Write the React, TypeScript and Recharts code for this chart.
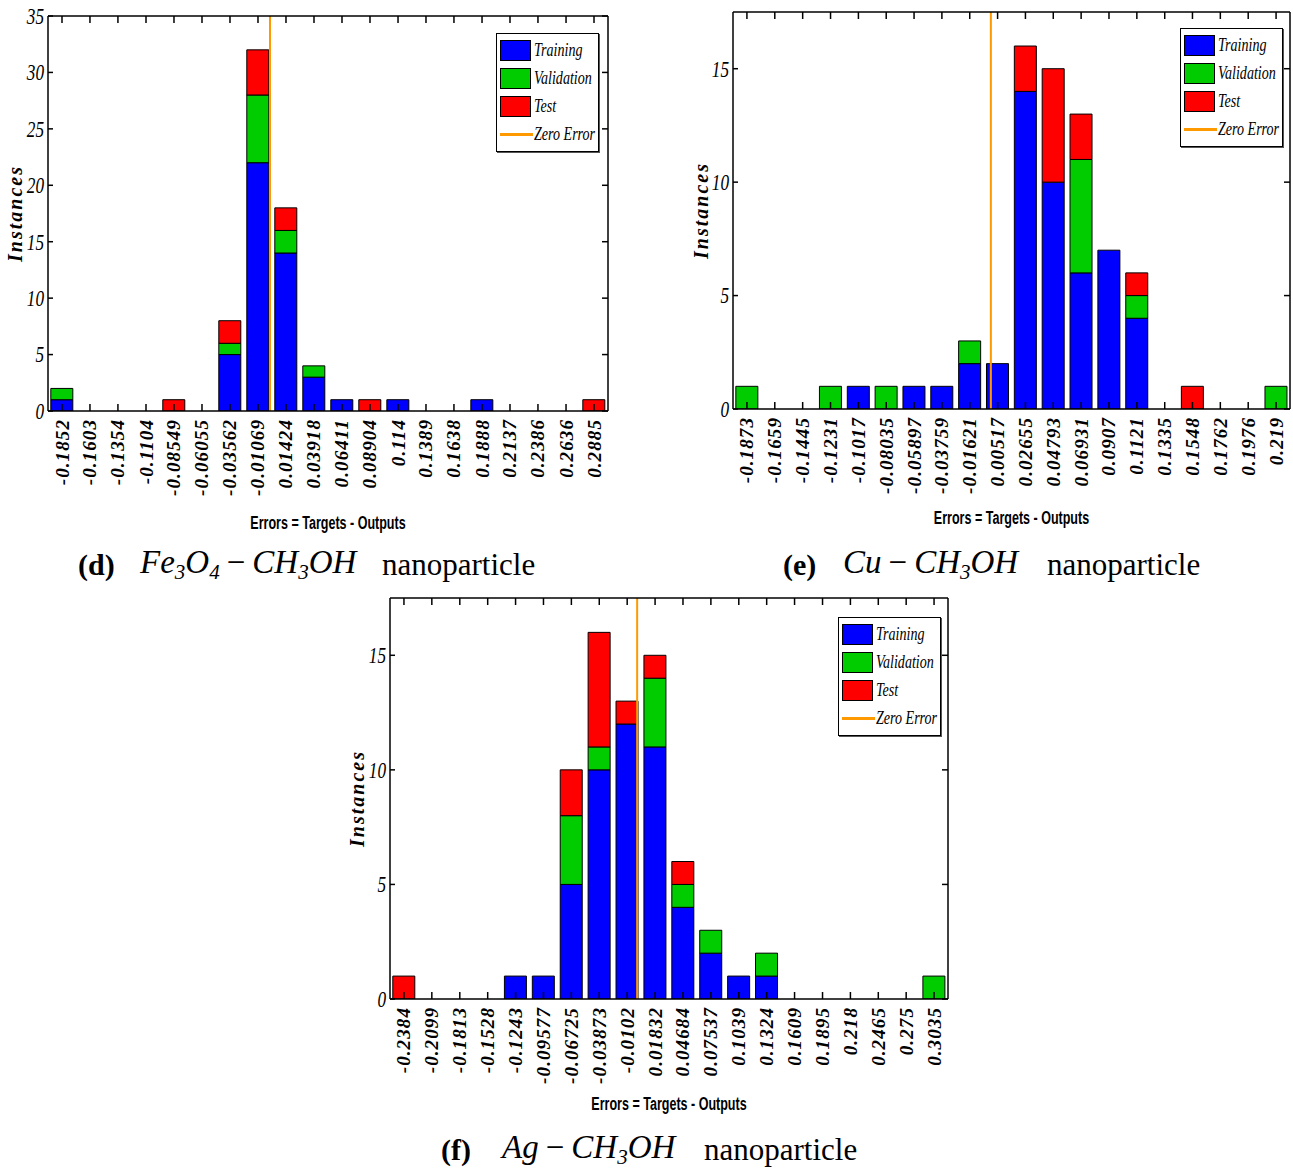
import { BarChart, Bar, XAxis, YAxis, ReferenceLine, Legend } from 'recharts'

// (d) Fe3O4 - CH3OH
const feBins = ['-0.1852', '-0.1603', '-0.1354', '-0.1104', '-0.08549', '-0.06055', '-0.03562', '-0.01069', '0.01424', '0.03918', '0.06411', '0.08904', '0.114', '0.1389', '0.1638', '0.1888', '0.2137', '0.2386', '0.2636', '0.2885']
const feTraining = [1, 0, 0, 0, 0, 0, 5, 22, 14, 3, 1, 0, 1, 0, 0, 1, 0, 0, 0, 0]
const feValidation = [1, 0, 0, 0, 0, 0, 1, 6, 2, 1, 0, 0, 0, 0, 0, 0, 0, 0, 0, 0]
const feTest = [0, 0, 0, 0, 1, 0, 2, 4, 2, 0, 0, 1, 0, 0, 0, 0, 0, 0, 0, 1]

// (e) Cu - CH3OH
const cuBins = ['-0.1873', '-0.1659', '-0.1445', '-0.1231', '-0.1017', '-0.08035', '-0.05897', '-0.03759', '-0.01621', '0.00517', '0.02655', '0.04793', '0.06931', '0.0907', '0.1121', '0.1335', '0.1548', '0.1762', '0.1976', '0.219']
const cuTraining = [0, 0, 0, 0, 1, 0, 1, 1, 2, 2, 14, 10, 6, 7, 4, 0, 0, 0, 0, 0]
const cuValidation = [1, 0, 0, 1, 0, 1, 0, 0, 1, 0, 0, 0, 5, 0, 1, 0, 0, 0, 0, 1]
const cuTest = [0, 0, 0, 0, 0, 0, 0, 0, 0, 0, 2, 5, 2, 0, 1, 0, 1, 0, 0, 0]

// (f) Ag - CH3OH
const agBins = ['-0.2384', '-0.2099', '-0.1813', '-0.1528', '-0.1243', '-0.09577', '-0.06725', '-0.03873', '-0.0102', '0.01832', '0.04684', '0.07537', '0.1039', '0.1324', '0.1609', '0.1895', '0.218', '0.2465', '0.275', '0.3035']
const agTraining = [0, 0, 0, 0, 1, 1, 5, 10, 12, 11, 4, 2, 1, 1, 0, 0, 0, 0, 0, 0]
const agValidation = [0, 0, 0, 0, 0, 0, 3, 1, 0, 3, 1, 1, 0, 1, 0, 0, 0, 0, 0, 1]
const agTest = [1, 0, 0, 0, 0, 0, 2, 5, 1, 1, 1, 0, 0, 0, 0, 0, 0, 0, 0, 0]

const feYTicks = [0, 5, 10, 15, 20, 25, 30, 35]
const smallYTicks = [0, 5, 10, 15]

const BLUE = '#0000ff'
const GREEN = '#00cc00'
const RED = '#ff0000'
const ORANGE = '#ff9900'
const SERIF = '"Liberation Serif", "Times New Roman", serif'
const SANS = '"Liberation Sans", Arial, sans-serif'

const legendItems = [
  { name: 'Training', color: BLUE },
  { name: 'Validation', color: GREEN },
  { name: 'Test', color: RED },
]

function buildRows(bins: string[], tr: number[], va: number[], te: number[]) {
  return bins.map((b, i) => ({ center: parseFloat(b), training: tr[i], validation: va[i], test: te[i] }))
}

// edges of the histogram range (half a bin beyond the outer centres)
function binRange(bins: string[]) {
  const first = parseFloat(bins[0])
  const last = parseFloat(bins[bins.length - 1])
  const w = (last - first) / (bins.length - 1)
  return [first - w / 2, last + w / 2]
}

const NoTick = () => <g />

function makeXTick(bins: string[]) {
  return ({ x, y, index }: any) => (
    <text x={x} y={y} transform={`rotate(-90 ${x} ${y})`} textAnchor="end" dominantBaseline="central"
      fontFamily={SERIF} fontWeight="bold" fontStyle="italic" fontSize={19} letterSpacing={1.1} fill="#000">
      {bins[index]}
    </text>
  )
}

function YTick({ x, y, payload }: any) {
  return (
    <text transform={`translate(${x} ${y}) scale(0.75 1)`} textAnchor="end" dominantBaseline="central"
      fontFamily={SERIF} fontStyle="italic" fontSize={23} fill="#000">
      {payload.value}
    </text>
  )
}

function XLabel({ viewBox }: any) {
  const cx = viewBox.x + viewBox.width / 2
  const cy = viewBox.y + viewBox.height - 13
  return (
    <text transform={`translate(${cx} ${cy}) scale(0.66 1)`} textAnchor="middle" dominantBaseline="central"
      fontFamily={SANS} fontWeight="bold" fontSize={19} fill="#000">
      Errors = Targets - Outputs
    </text>
  )
}

const legendText = { fontFamily: SERIF, fontStyle: 'italic', fontSize: 19, transform: 'scaleX(0.74)', transformOrigin: 'left', whiteSpace: 'nowrap' } as const

function LegendBox() {
  return (
    <div style={{ border: '1.5px solid #000', background: '#fff', padding: '2px 4px 3px 3px', boxShadow: '1px 1px 0 #555' }}>
      {legendItems.map((it) => (
        <div key={it.name} style={{ display: 'flex', alignItems: 'center', height: 28 }}>
          <span style={{ flexShrink: 0, width: 31, height: 21, background: it.color, border: '1px solid #000', boxSizing: 'border-box', marginRight: 3 }} />
          <span style={legendText}>{it.name}</span>
        </div>
      ))}
      <div style={{ display: 'flex', alignItems: 'center', height: 28 }}>
        <span style={{ flexShrink: 0, width: 33, height: 3, background: ORANGE, marginRight: 1 }} />
        <span style={legendText}>Zero Error</span>
      </div>
    </div>
  )
}

function ErrorHistogram({ bins, tr, va, te, yMax, yTicks, width, height, margin, yWidth, xHeight, labelX, legendPos }: any) {
  const rows = buildRows(bins, tr, va, te)
  const centers = rows.map((r) => r.center)
  const range = binRange(bins)
  return (
    <BarChart width={width} height={height} data={rows} margin={margin} barCategoryGap="10%">
      <XAxis xAxisId="top" dataKey="center" type="number" domain={range} ticks={centers} allowDataOverflow
        orientation="top" height={1} tick={NoTick} tickSize={-7} stroke="#000" strokeWidth={1.5} interval={0} />
      <XAxis xAxisId="bottom" dataKey="center" type="number" domain={range} ticks={centers} allowDataOverflow
        height={xHeight} interval={0} tickSize={-7} tickMargin={15}
        stroke="#000" strokeWidth={1.5} tick={makeXTick(bins)} label={<XLabel />} />
      <YAxis yAxisId="left" domain={[0, yMax]} ticks={yTicks} width={yWidth} tickSize={-5} tickMargin={9}
        stroke="#000" strokeWidth={1.5} tick={<YTick />} allowDataOverflow
        label={{ value: 'Instances', angle: -90, position: 'insideLeft', offset: labelX, style: { textAnchor: 'middle' }, fill: '#000', fontSize: 20, letterSpacing: 2, fontWeight: 'bold', fontStyle: 'italic', fontFamily: SERIF }} />
      <YAxis yAxisId="right" orientation="right" domain={[0, yMax]} ticks={yTicks} width={1} tickSize={-6}
        tick={NoTick} stroke="#000" strokeWidth={1.5} allowDataOverflow />
      <Bar xAxisId="bottom" yAxisId="left" dataKey="training" name="Training" stackId="a" fill={BLUE} stroke="#000" strokeWidth={1} isAnimationActive={false} />
      <Bar xAxisId="bottom" yAxisId="left" dataKey="validation" name="Validation" stackId="a" fill={GREEN} stroke="#000" strokeWidth={1} isAnimationActive={false} />
      <Bar xAxisId="bottom" yAxisId="left" dataKey="test" name="Test" stackId="a" fill={RED} stroke="#000" strokeWidth={1} isAnimationActive={false} />
      <ReferenceLine xAxisId="bottom" yAxisId="left" x={0} stroke={ORANGE} strokeWidth={2} />
      <Legend layout="horizontal" verticalAlign="middle" align="center" content={() => <LegendBox />}
        wrapperStyle={{ left: legendPos[0], top: legendPos[1], width: 103, height: 117 }} />
    </BarChart>
  )
}

function Caption({ left, top, tag, formula, nanoLeft, formulaLeft }: any) {
  return (
    <>
      <div style={{ position: 'absolute', left, top, fontFamily: SERIF, fontWeight: 'bold', fontSize: 30, lineHeight: '34px' }}>{tag}</div>
      <div style={{ position: 'absolute', left: formulaLeft, top: top - 4, fontFamily: SERIF, fontStyle: 'italic', fontSize: 33, lineHeight: '36px', whiteSpace: 'nowrap' }}>{formula}</div>
      <div style={{ position: 'absolute', left: nanoLeft, top, fontFamily: SERIF, fontSize: 31, lineHeight: '34px' }}>nanoparticle</div>
    </>
  )
}

const subStyle = { fontSize: 21, verticalAlign: '-0.3em', lineHeight: 0 }
const minus = <span style={{ fontStyle: 'normal', margin: '0 7px' }}>−</span>

export default function App() {
  return (
    <div style={{ position: 'absolute', left: 0, top: 0, width: 1293, height: 1169, background: '#fff', overflow: 'hidden' }}>
      <div style={{ position: 'absolute', left: 0, top: 0 }}>
        <ErrorHistogram bins={feBins} tr={feTraining} va={feValidation} te={feTest} yMax={35} yTicks={feYTicks}
          width={620} height={535} margin={{ top: 15, right: 11, left: 0, bottom: 0 }} yWidth={48} xHeight={124}
          labelX={15} legendPos={[496, 33]} />
      </div>
      <div style={{ position: 'absolute', left: 690, top: 0 }}>
        <ErrorHistogram bins={cuBins} tr={cuTraining} va={cuValidation} te={cuTest} yMax={17.5} yTicks={smallYTicks}
          width={603} height={530} margin={{ top: 11, right: 2, left: 0, bottom: 0 }} yWidth={43} xHeight={121}
          labelX={11} legendPos={[490, 28]} />
      </div>
      <div style={{ position: 'absolute', left: 340, top: 585 }}>
        <ErrorHistogram bins={agBins} tr={agTraining} va={agValidation} te={agTest} yMax={17.5} yTicks={smallYTicks}
          width={610} height={531} margin={{ top: 12, right: 1, left: 0, bottom: 0 }} yWidth={50} xHeight={117}
          labelX={17} legendPos={[498, 32]} />
      </div>
      <Caption left={78} top={548} tag="(d)" formulaLeft={140} nanoLeft={382}
        formula={<>Fe<sub style={subStyle}>3</sub>O<sub style={subStyle}>4</sub>{minus}CH<sub style={subStyle}>3</sub>OH</>} />
      <Caption left={783} top={548} tag="(e)" formulaLeft={843} nanoLeft={1047}
        formula={<>Cu{minus}CH<sub style={subStyle}>3</sub>OH</>} />
      <Caption left={441} top={1133} tag="(f)" formulaLeft={502} nanoLeft={704}
        formula={<>Ag{minus}CH<sub style={subStyle}>3</sub>OH</>} />
    </div>
  )
}
